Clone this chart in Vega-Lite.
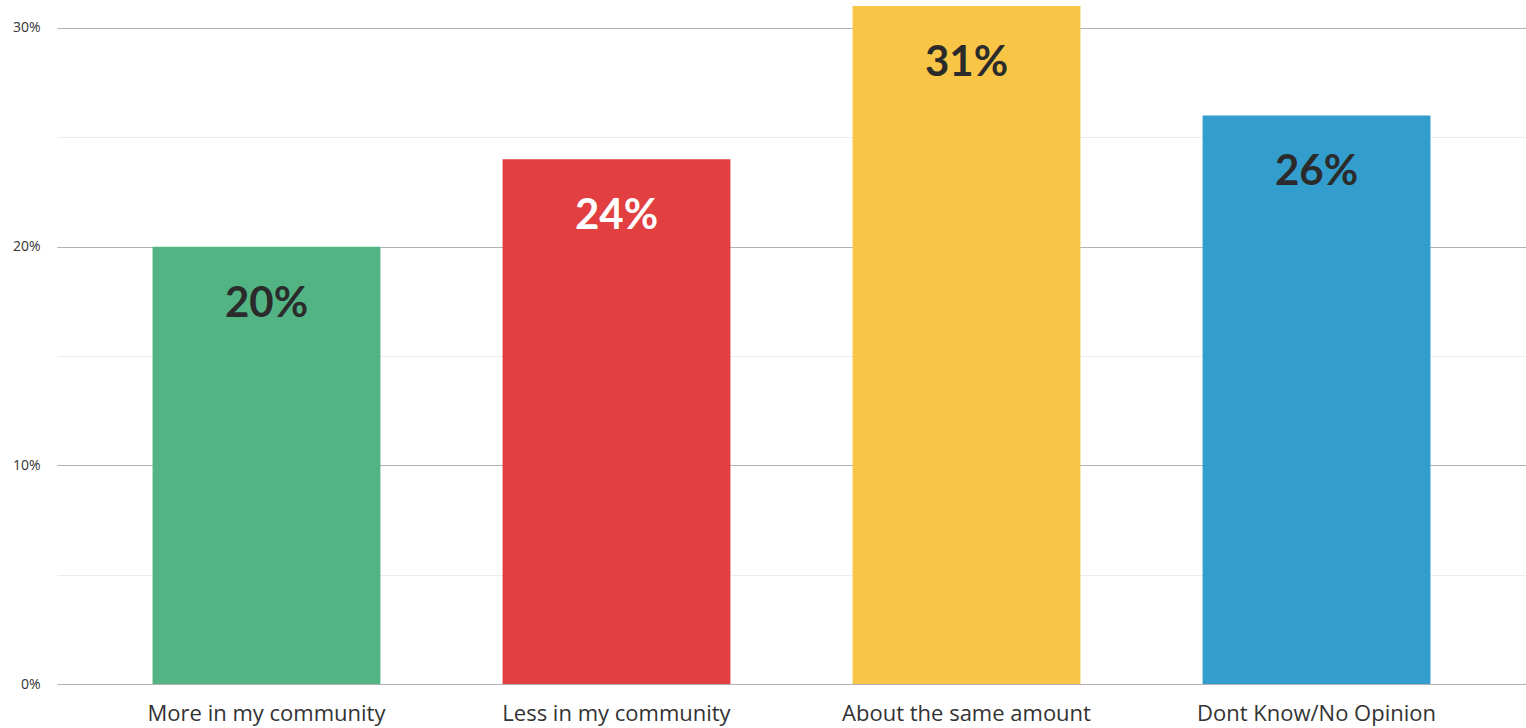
{
  "$schema": "https://vega.github.io/schema/vega-lite/v6.json",
  "width": 1469,
  "height": 684,
  "autosize": {"type": "none"},
  "padding": {"left": 57, "top": 0, "right": 0, "bottom": 44},
  "background": "white",
  "config": {"view": {"stroke": null}, "font": "Lato"},
  "data": {
    "values": [
      {"category": "More in my community", "value": 0.20, "label": "20%", "color": "#52b383", "textColor": "#2b2b2b"},
      {"category": "Less in my community", "value": 0.24, "label": "24%", "color": "#e13f40", "textColor": "#ffffff"},
      {"category": "About the same amount", "value": 0.31, "label": "31%", "color": "#f8c547", "textColor": "#2b2b2b"},
      {"category": "Dont Know/No Opinion", "value": 0.26, "label": "26%", "color": "#339dcd", "textColor": "#2b2b2b"}
    ]
  },
  "encoding": {
    "x": {
      "field": "category", "type": "nominal", "sort": null,
      "scale": {"paddingInner": 0.349, "paddingOuter": 0.273},
      "axis": {"title": null, "labelAngle": 0, "labelFont": "Open Sans", "labelFontSize": 22, "labelColor": "#333333", "labelPadding": 19, "labelLimit": 0, "ticks": false, "domain": false, "grid": false}
    },
    "y": {
      "field": "value", "type": "quantitative",
      "scale": {"domain": [0, 0.3128], "nice": false, "zero": true},
      "axis": {
        "title": null,
        "values": [0, 0.05, 0.1, 0.15, 0.2, 0.25, 0.3],
        "labelExpr": "round(datum.value*100) % 10 == 0 ? round(datum.value*100) + '%' : ''",
        "labelFont": "Open Sans",
        "labelFontSize": 14, "labelColor": "#333333", "labelPadding": 17,
        "ticks": false, "domain": false,
        "grid": true,
        "gridColor": {"condition": {"test": "round(datum.value*100) % 10 == 0", "value": "#b3b3b3"}, "value": "#ececec"},
        "gridWidth": 1
      }
    }
  },
  "layer": [
    {
      "mark": {"type": "bar"},
      "encoding": {"color": {"field": "color", "type": "nominal", "scale": null, "legend": null}}
    },
    {
      "mark": {"type": "text", "baseline": "middle", "align": "center", "dy": 57, "fontSize": 42, "fontWeight": "bold"},
      "encoding": {
        "text": {"field": "label"},
        "color": {"field": "textColor", "type": "nominal", "scale": null, "legend": null}
      }
    }
  ]
}
